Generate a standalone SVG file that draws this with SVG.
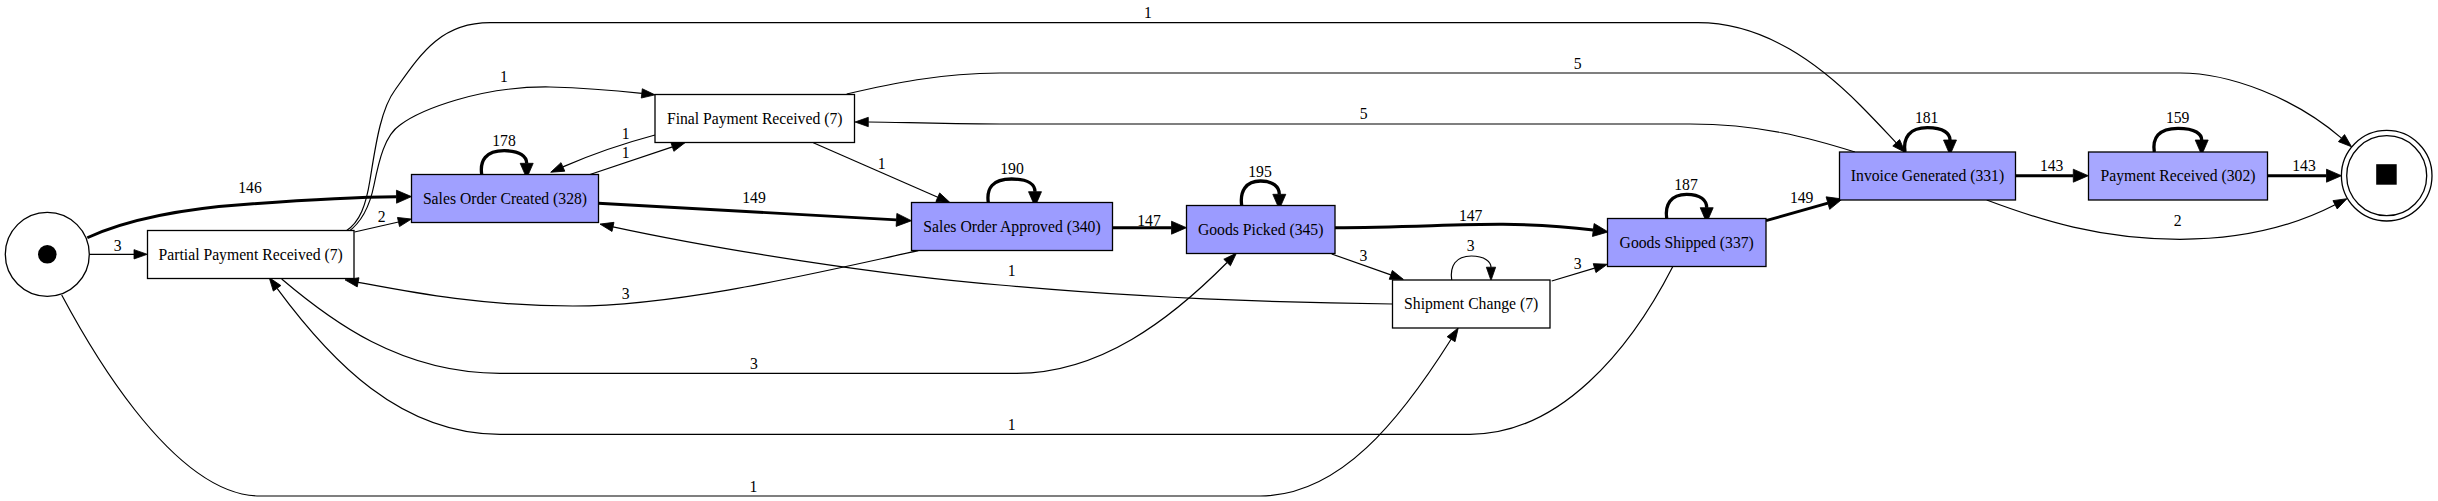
<svg xmlns="http://www.w3.org/2000/svg" width="2438" height="501" viewBox="0 0 2438 501">
<style>
text{font-family:"Liberation Serif","Times New Roman",serif;font-size:15.7px;fill:#000;text-anchor:middle}
.n rect{stroke:#000;stroke-width:1.3}
.c{fill:#fff;stroke:#000;stroke-width:1.3}
.e{fill:none;stroke:#000;stroke-width:1.2;marker-end:url(#ah)}
.t{fill:none;stroke:#000;stroke-width:2.9;marker-end:url(#ahb)}
.l{fill:none;stroke:#000;stroke-width:3.3;marker-end:url(#ahb)}
</style>
<defs>
<marker id="ah" markerUnits="userSpaceOnUse" markerWidth="14" markerHeight="10" refX="0" refY="4.67" orient="auto" overflow="visible"><path d="M0,0 L13.3,4.67 L0,9.33 z" fill="#000" stroke="#000" stroke-width="0.8"/></marker>
<marker id="ahb" markerUnits="userSpaceOnUse" markerWidth="16" markerHeight="14" refX="0" refY="6.5" orient="auto" overflow="visible"><path d="M0,0 L15,6.5 L0,13 z" fill="#000" stroke="#000" stroke-width="0.8"/></marker>
</defs>
<rect width="2438" height="501" fill="#fff"/>
<g id="edges">
<path class="e" d="M89.3,254.3 L134,254.3"/>
<path class="t" d="M87.3,237.7 C115,225 160,210 250,204 C310,199.5 350,197 396.5,196.7"/>
<path class="e" d="M354.5,232 L398.5,222"/>
<path class="e" d="M346,231 C360,222 366,205 370,180 C375,150 380,110 395,90 C420,55 440,22.7 490,22.7 L1698,22.7 C1765,22.7 1820,65 1860,105 C1875,120 1886,132 1896.2,142.8"/>
<path class="e" d="M348,232 C362,222 370,205 374,185 C379,160 385,135 400,125 C420,110 480,86 550,87 C590,88 620,91 641.8,93.4"/>
<path class="l" d="M481.7,174.5 C479.7,160.5 485.7,150.7 504.2,150.7 C520.7,150.7 526.7,156.7 526.7,163.3"/>
<path class="e" d="M655,135 C625,143 590,155 562.9,166.9"/>
<path class="e" d="M590,174.5 L672.4,146.9"/>
<path class="t" d="M598.3,203.3 L896.5,219.9"/>
<path class="l" d="M988.3,202.5 C986.3,188.5 992.3,179 1011.65,179 C1029,179 1035,185 1035,191.7"/>
<path class="e" d="M813.3,142.7 L937.8,197.2"/>
<path class="t" d="M1112.7,227.7 L1171.5,227.7"/>
<path class="l" d="M1241.7,205.5 C1239.7,191.5 1245.7,181 1260.5,181 C1273.3,181 1279.3,187 1279.3,194.3"/>
<path class="t" d="M1335,227.7 C1400,227.7 1460,224 1503,224.3 C1540,224.6 1570,227 1593.3,230"/>
<path class="e" d="M1331.7,254 L1390.8,274.9"/>
<path class="e" d="M1451.7,280 C1449.7,266 1455.7,256 1471.35,256 C1485,256 1491,262 1491,267.2"/>
<path class="e" d="M1551.7,281 L1594.6,268.1"/>
<path class="l" d="M1666.7,218.5 C1664.7,204.5 1670.7,194.3 1686.7,194.3 C1700.7,194.3 1706.7,200.3 1706.7,207.7"/>
<path class="t" d="M1766,220.7 L1827.9,203.1"/>
<path class="l" d="M1905,152 C1903,138 1909,127.7 1927.5,127.7 C1944,127.7 1950,133.7 1950,140"/>
<path class="e" d="M1855,152 C1810,138 1760,124 1690,124 L1000,124 C930,124 900,122 868.3,122"/>
<path class="e" d="M846.7,94 C890,84 940,73 1000,73 L2180,73 C2230,73 2295,98 2341.5,138.1"/>
<path class="t" d="M2015.7,175.7 L2073.3,175.7"/>
<path class="l" d="M2154.3,152 C2152.3,138 2158.3,128.3 2178,128.3 C2195.7,128.3 2201.7,134.3 2201.7,140"/>
<path class="t" d="M2267.7,175.7 L2326.5,175.7"/>
<path class="e" d="M1986.7,200 C2040,220 2100,239.3 2180,239.3 C2240,239.3 2290,228 2335.1,204.8"/>
<path class="e" d="M918.3,250.7 C820,272 680,306 573,306 C480,306 410,292 358.1,282.3"/>
<path class="e" d="M1392.7,304 C1300,303 1150,299 1000,285 C880,275 720,250 613,226.9"/>
<path class="e" d="M281.7,279 C330,320 400,373.3 500,373.3 L1016.7,373.3 C1100,373.3 1170,320 1227.1,262.5"/>
<path class="e" d="M1672.7,266.7 C1630,350 1560,434.3 1470,434.3 L500,434.3 C400,434.3 330,360 277.1,288.3"/>
<path class="e" d="M61.7,295 C82,333 170,496 260,496 L1260,496 C1340,496 1400,420 1451.1,339.2"/>
</g>
<g id="edge-labels">
<text x="250" y="193.2">146</text>
<text x="117.7" y="250.5">3</text>
<text x="381.7" y="221.5">2</text>
<text x="1148" y="18.2">1</text>
<text x="504" y="82.2">1</text>
<text x="504" y="146.2">178</text>
<text x="625.7" y="138.8">1</text>
<text x="625.7" y="157.8">1</text>
<text x="754" y="203.2">149</text>
<text x="1012" y="174.2">190</text>
<text x="881.7" y="168.8">1</text>
<text x="1149" y="225.5">147</text>
<text x="1260" y="177.2">195</text>
<text x="1470.7" y="221.2">147</text>
<text x="1363.3" y="261.2">3</text>
<text x="1470.7" y="251.2">3</text>
<text x="1577.7" y="268.8">3</text>
<text x="1686" y="189.8">187</text>
<text x="1801.7" y="203.2">149</text>
<text x="1926.7" y="123.2">181</text>
<text x="1363.7" y="118.8">5</text>
<text x="1577.7" y="68.8">5</text>
<text x="2051.7" y="171.2">143</text>
<text x="2177.7" y="123.2">159</text>
<text x="2304" y="171.2">143</text>
<text x="2177.7" y="225.5">2</text>
<text x="625.7" y="298.8">3</text>
<text x="1011.7" y="275.5">1</text>
<text x="754" y="368.8">3</text>
<text x="1011.7" y="429.8">1</text>
<text x="753.3" y="491.5">1</text>
</g>
<g id="start"><circle class="c" cx="47.3" cy="254.3" r="42"/><circle cx="47.3" cy="254.3" r="9.3" fill="#000"/></g>
<g id="end"><circle class="c" cx="2386.7" cy="175.7" r="45.3"/><circle class="c" cx="2386.7" cy="175.7" r="40"/><rect x="2376.2" y="164.2" width="20.5" height="20.5" fill="#000"/></g>
<g id="partial-payment-received" class="n"><rect x="147.5" y="230.5" width="206.5" height="48" fill="#FFFFFF"/><text x="250.7" y="259.8">Partial Payment Received (7)</text></g>
<g id="sales-order-created" class="n"><rect x="411.5" y="174.5" width="187" height="48" fill="#A0A0FF"/><text x="505" y="203.8">Sales Order Created (328)</text></g>
<g id="final-payment-received" class="n"><rect x="655" y="94.5" width="199.5" height="48" fill="#FFFFFF"/><text x="754.7" y="123.8">Final Payment Received (7)</text></g>
<g id="sales-order-approved" class="n"><rect x="911.5" y="202.5" width="201" height="48" fill="#9C9CFF"/><text x="1012" y="231.8">Sales Order Approved (340)</text></g>
<g id="goods-picked" class="n"><rect x="1186.5" y="205.5" width="148.5" height="48" fill="#9B9BFF"/><text x="1260.7" y="234.8">Goods Picked (345)</text></g>
<g id="shipment-change" class="n"><rect x="1392.5" y="280" width="157.5" height="48" fill="#FFFFFF"/><text x="1471.2" y="309.3">Shipment Change (7)</text></g>
<g id="goods-shipped" class="n"><rect x="1607.5" y="218.5" width="158.5" height="48" fill="#9D9DFF"/><text x="1686.7" y="247.8">Goods Shipped (337)</text></g>
<g id="invoice-generated" class="n"><rect x="1839.5" y="152" width="176" height="48" fill="#9F9FFF"/><text x="1927.5" y="181.3">Invoice Generated (331)</text></g>
<g id="payment-received" class="n"><rect x="2088.5" y="152" width="179" height="48" fill="#A7A7FF"/><text x="2178" y="181.3">Payment Received (302)</text></g>
</svg>
